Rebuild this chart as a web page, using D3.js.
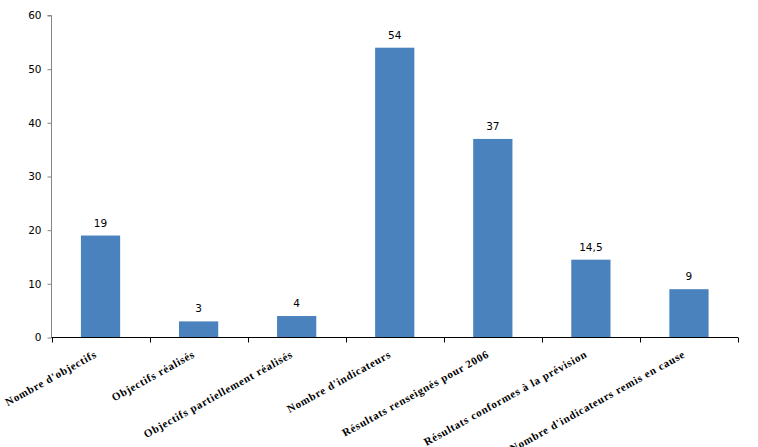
<!DOCTYPE html>
<html><head><meta charset="utf-8">
<script src="https://cdn.jsdelivr.net/npm/d3@7"></script>
<style>body{margin:0;background:#fff}svg{display:block}</style>
</head><body><svg id="c" width="758" height="447"></svg>
<script>
const categories = ["Nombre d'objectifs","Objectifs réalisés","Objectifs partiellement réalisés","Nombre d'indicateurs","Résultats renseignés pour 2006","Résultats conformes à la prévision","Nombre d'indicateurs remis en cause"];
const values = [19,3,4,54,37,14.5,9];
const valueLabels = ["19","3","4","54","37","14,5","9"];
const yTicks = [0,10,20,30,40,50,60];

(function(){
const svg = d3.select("#c");
const mL = 51.5, mR = 738, mT = 15.5, mB = 337.5;
const x = d3.scaleBand().domain(categories).range([mL, mR]).paddingInner(0.6).paddingOuter(0.3);
const xb = d3.scaleBand().domain(categories).range([mL, mR]);
const y = d3.scaleLinear().domain([0,60]).range([mB, mT]);

// y axis
const ya = svg.append("g").attr("transform",`translate(${mL},0)`)
  .call(d3.axisLeft(y).tickValues(yTicks).tickSize(4).tickPadding(6));
ya.selectAll("path,line").attr("stroke","#868686");
ya.select(".domain").attr("d",`M-4,${mT}H0V${mB}`);
ya.selectAll("text").attr("font-family","DejaVu Sans, Verdana, sans-serif").attr("font-size","10.5px").attr("fill","#000");

// bars
svg.append("g").selectAll("rect").data(values).join("rect")
  .attr("x",(d,i)=>x(categories[i])).attr("width",x.bandwidth())
  .attr("y",d=>y(d)).attr("height",d=>y(0)-y(d)).attr("fill","#4a82bd");

// value labels
svg.append("g").selectAll("text").data(values).join("text")
  .attr("x",(d,i)=>x(categories[i])+x.bandwidth()/2).attr("y",d=>y(d)-9)
  .attr("text-anchor","middle").attr("font-family","DejaVu Sans, Verdana, sans-serif")
  .attr("font-size","10.5px").attr("fill","#000").text((d,i)=>valueLabels[i]);

// x axis
const xa = svg.append("g").attr("transform",`translate(0,${mB})`);
xa.append("line").attr("x1",mL).attr("x2",mR).attr("stroke","#000").attr("stroke-width",1.2);
const tickXs = [mL].concat(categories.map(c=>xb(c)+xb.bandwidth()));
xa.selectAll("line.t").data(tickXs).join("line").attr("class","t")
  .attr("x1",d=>Math.round(d)+0.5).attr("x2",d=>Math.round(d)+0.5).attr("y1",0).attr("y2",5).attr("stroke","#000");

xa.selectAll("text").data(categories).join("text")
  .attr("transform",d=>`translate(${xb(d)+xb.bandwidth()/2-3},${19}) rotate(-29)`)
  .attr("text-anchor","end").attr("font-family","Liberation Serif, Times New Roman, serif")
  .attr("font-weight","bold").attr("font-size","11px").attr("letter-spacing","0.7px")
  .attr("fill","#000").text(d=>d);
})();
</script></body></html>
